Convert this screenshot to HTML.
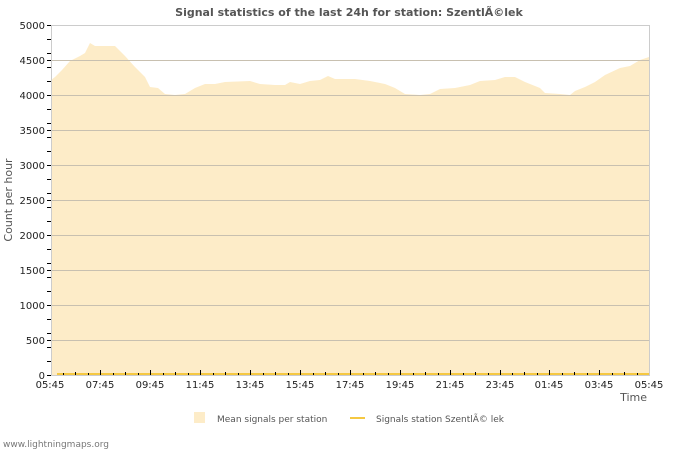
<!DOCTYPE html>
<html><head><meta charset="utf-8"><style>
html,body{margin:0;padding:0;background:#fff;}
svg{display:block;font-family:"DejaVu Sans","Liberation Sans",sans-serif;}
</style></head><body>
<svg width="700" height="450" viewBox="0 0 700 450" xmlns="http://www.w3.org/2000/svg">
<rect width="700" height="450" fill="#fff"/>
<text x="349" y="16" text-anchor="middle" font-size="11" font-weight="bold" fill="#555">Signal statistics of the last 24h for station: SzentlÃ©lek</text>
<polygon fill="#fdecc8" points="51,375 51,80 55,77 62,70 70,61 80,56 85,53 90,43 95,46 115,46 125,56 135,67 145,77 150,87 158,88 165,94 175,95 185,94 195,88 205,84 215,84 225,82 250,81 260,84 275,85 285,85 290,82 300,84 310,81 320,80 328,76 335,79 345,79 355,79 370,81 385,84 395,88 405,94 420,95 430,94 440,89 455,88 470,85 480,81 495,80 505,77 515,77 525,82 540,88 545,93 560,94 570,95 575,91 585,87 595,82 605,75 620,68 630,66 640,60 649,57 649,375"/>
<g stroke="#c8c0b0" stroke-width="1">
<line x1="51" y1="25.5" x2="649" y2="25.5" stroke="#ccc"/>
<line x1="51" y1="95.5" x2="649" y2="95.5"/>
<line x1="51" y1="165.5" x2="649" y2="165.5"/>
<line x1="51" y1="235.5" x2="649" y2="235.5"/>
<line x1="51" y1="305.5" x2="649" y2="305.5"/>
<line x1="51" y1="60.5" x2="649" y2="60.5"/>
<line x1="51" y1="130.5" x2="649" y2="130.5"/>
<line x1="51" y1="200.5" x2="649" y2="200.5"/>
<line x1="51" y1="270.5" x2="649" y2="270.5"/>
<line x1="51" y1="340.5" x2="649" y2="340.5"/>
</g>
<line x1="51.5" y1="25" x2="51.5" y2="375" stroke="#ccc"/>
<line x1="649.5" y1="25" x2="649.5" y2="375" stroke="#ccc"/>
<line x1="51" y1="375.5" x2="650" y2="375.5" stroke="#ccc"/>
<line x1="57" y1="374" x2="649" y2="374" stroke="#f5c842" stroke-width="2"/>
<g font-size="10" fill="#222" text-anchor="end">
<text x="45" y="29">5000</text><text x="45" y="64">4500</text><text x="45" y="99">4000</text><text x="45" y="134">3500</text><text x="45" y="169">3000</text><text x="45" y="204">2500</text><text x="45" y="239">2000</text><text x="45" y="274">1500</text><text x="45" y="309">1000</text><text x="45" y="344">500</text><text x="45" y="379">0</text>
</g>
<g font-size="10" fill="#222" text-anchor="middle">
<text x="50" y="388">05:45</text><text x="100" y="388">07:45</text><text x="150" y="388">09:45</text><text x="200" y="388">11:45</text><text x="250" y="388">13:45</text><text x="300" y="388">15:45</text><text x="350" y="388">17:45</text><text x="400" y="388">19:45</text><text x="450" y="388">21:45</text><text x="500" y="388">23:45</text><text x="549" y="388">01:45</text><text x="599" y="388">03:45</text><text x="649" y="388">05:45</text>
</g>
<text x="647" y="401" text-anchor="end" font-size="11" fill="#555">Time</text>
<text transform="translate(12,200) rotate(-90)" text-anchor="middle" font-size="11" fill="#555">Count per hour</text>
<rect x="194" y="412" width="11" height="11" fill="#fdecc8"/>
<text x="217" y="422" font-size="9" fill="#555">Mean signals per station</text>
<line x1="350" y1="418" x2="365" y2="418" stroke="#f5c842" stroke-width="2"/>
<text x="376" y="422" font-size="9" fill="#555">Signals station SzentlÃ© lek</text>
<text x="3" y="447" font-size="9" fill="#777">www.lightningmaps.org</text>
<path stroke="#000" stroke-width="1" fill="none" d="
M47,39.5h4M47,53.5h4M47,67.5h4M47,81.5h4M47,109.5h4M47,123.5h4M47,137.5h4M47,151.5h4M47,179.5h4M47,193.5h4M47,207.5h4M47,221.5h4M47,249.5h4M47,263.5h4M47,277.5h4M47,291.5h4M47,319.5h4M47,333.5h4M47,347.5h4M47,361.5h4
M47,25.5h4M47,95.5h4M47,165.5h4M47,235.5h4M47,305.5h4M47,375.5h4M47,60.5h4M47,130.5h4M47,200.5h4M47,270.5h4M47,340.5h4
M75.5,372v3M100.5,370v5M125.5,372v3M150.5,370v5M175.5,372v3M200.5,370v5M225.5,372v3M250.5,370v5M275.5,372v3M300.5,370v5M325.5,372v3M350.5,370v5M375.5,372v3M400.5,370v5M425.5,372v3M450.5,370v5M475.5,372v3M500.5,370v5M524.5,372v3M549.5,370v5M574.5,372v3M599.5,370v5M624.5,372v3
M63.5,373v2M88.5,373v2M113.5,373v2M138.5,373v2M163.5,373v2M188.5,373v2M213.5,373v2M238.5,373v2M263.5,373v2M288.5,373v2M313.5,373v2M338.5,373v2M363.5,373v2M388.5,373v2M413.5,373v2M438.5,373v2M463.5,373v2M488.5,373v2M512.5,373v2M537.5,373v2M562.5,373v2M587.5,373v2M612.5,373v2M637.5,373v2"/>
</svg>
</body></html>
